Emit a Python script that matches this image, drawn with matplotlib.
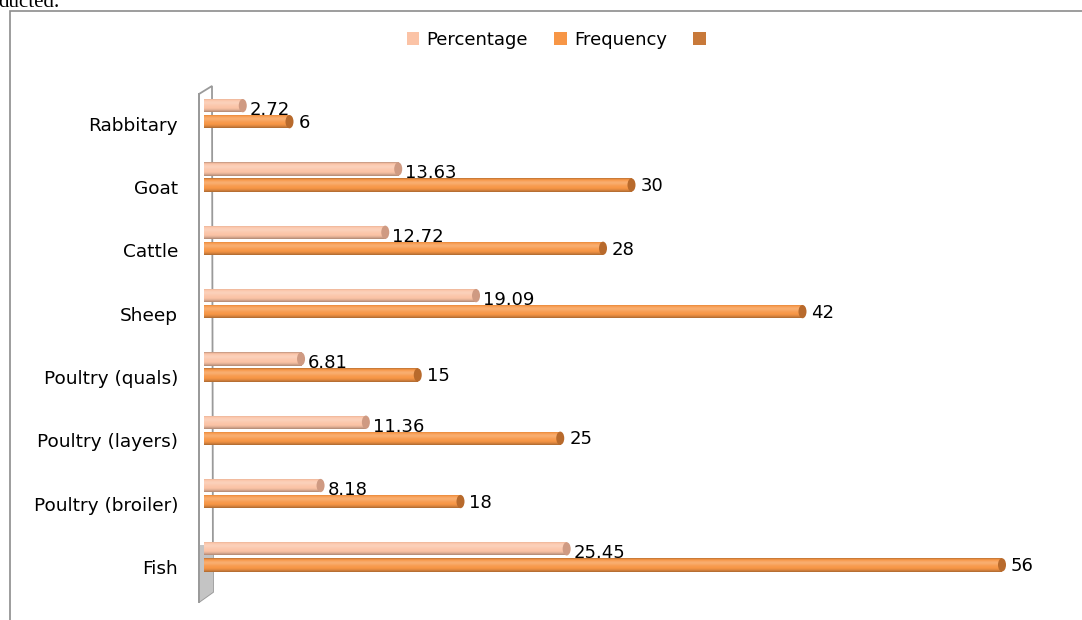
import numpy as np
import matplotlib
matplotlib.use("Agg")
import matplotlib.pyplot as plt
from matplotlib.patches import Polygon, Rectangle, Ellipse, Patch
from matplotlib.lines import Line2D
from matplotlib.colors import to_rgb

# Livestock / enterprise categories (bottom to top)
categories = ["Fish", "Poultry (broiler)", "Poultry (layers)", "Poultry (quals)",
              "Sheep", "Cattle", "Goat", "Rabbitary"]
percentage = [25.45, 8.18, 11.36, 6.81, 19.09, 12.72, 13.63, 2.72]
frequency = [56, 18, 25, 15, 42, 28, 30, 6]
series_names = ["Percentage", "Frequency", ""]

W, H = 1082, 620
fig = plt.figure(figsize=(W / 100, H / 100), dpi=100)
fig.patch.set_facecolor("white")

def fx(x):
    return x / W

def fy(y):
    return 1 - y / H

# outer chart frame
fig.patches.append(Rectangle((fx(10), fy(640)), fx(1100) - fx(10), fy(11) - fy(640),
                             transform=fig.transFigure, fill=False,
                             edgecolor="#8c8c8c", lw=1.2, zorder=0))
fig.text(fx(-2), fy(7), "ducted.", family="Liberation Serif", fontsize=15,
         ha="left", va="baseline")

# 3-D wall behind the category axis
fig.patches.append(Polygon([(fx(199), fy(94)), (fx(212), fy(86)), (fx(213), fy(592)),
                            (fx(199), fy(602))], closed=True, transform=fig.transFigure,
                           facecolor="white", edgecolor="#9a9a9a", lw=1.3, zorder=1))
fig.patches.append(Polygon([(fx(199), fy(545)), (fx(213), fy(545)), (fx(213), fy(592)),
                            (fx(199), fy(602))], closed=True, transform=fig.transFigure,
                           facecolor="#c4c4c4", edgecolor="none", zorder=1))
fig.lines.append(Line2D([fx(199), fx(199)], [fy(94), fy(602)],
                        transform=fig.transFigure, color="#9a9a9a", lw=1.4, zorder=2))

ax = fig.add_axes([fx(204), fy(600.5), fx(1059) - fx(204), fy(94) - fy(600.5)])
ax.set_zorder(5)
ax.set_xlim(0, 60)
ax.set_ylim(-0.5, 7.5)
ax.axis("off")
ax.patch.set_alpha(0)

y = np.arange(len(categories))
bar_h = 0.21
off_pct = 0.316
off_freq = 0.063
colors = ["#FBC3A6", "#F79646", "#C8793A"]
cap_colors = ["#CF9A82", "#B86A2C"]
px_per_unit = 855 / 60.0

def shade(c, f):
    r = np.array(to_rgb(c))
    if f >= 0:
        return tuple(r + (1 - r) * f)
    return tuple(r * (1 + f))

def cylinder_bar(yc, val, color, cap):
    # vertical shading profile for a cylinder (top -> bottom)
    prof = np.array([-0.18, 0.0, 0.12, 0.22, 0.22, 0.15, 0.08, 0.03, 0.0, -0.05, -0.14, -0.26])
    img = np.array([shade(color, f) for f in prof])[::-1][:, None, :]
    base = ax.barh(yc, val, height=bar_h, color=color, zorder=3)[0]
    im = ax.imshow(img, extent=[0, val, yc - bar_h / 2, yc + bar_h / 2],
                   aspect="auto", zorder=4, interpolation="bilinear", origin="lower")
    im.set_clip_path(base)
    ax.add_patch(Ellipse((val, yc), width=8 / px_per_unit, height=bar_h,
                         facecolor=cap, edgecolor="none", zorder=5))

for i in range(len(categories)):
    cylinder_bar(y[i] + off_pct, percentage[i], colors[0], cap_colors[0])
    cylinder_bar(y[i] + off_freq, frequency[i], colors[1], cap_colors[1])
    ax.text(percentage[i] + 7 / px_per_unit, y[i] + off_pct - 0.07, f"{percentage[i]:.2f}",
            fontsize=13, ha="left", va="center", zorder=6)
    ax.text(frequency[i] + 9 / px_per_unit, y[i] + off_freq - 0.02, f"{frequency[i]}",
            fontsize=13, ha="left", va="center", zorder=6)
    ax.text(-26 / px_per_unit, y[i], categories[i], fontsize=13.3, ha="right",
            va="center", clip_on=False)

ax.set_xlim(0, 60)
ax.set_ylim(-0.5, 7.5)

handles = [Patch(facecolor=c, edgecolor="none") for c in colors]
fig.legend(handles, series_names, loc="center", bbox_to_anchor=(fx(560), fy(40)),
           ncol=3, frameon=False, fontsize=13, handlelength=0.7, handleheight=0.7,
           handletextpad=0.4, columnspacing=1.45)

fig.savefig("out.png", dpi=100)
